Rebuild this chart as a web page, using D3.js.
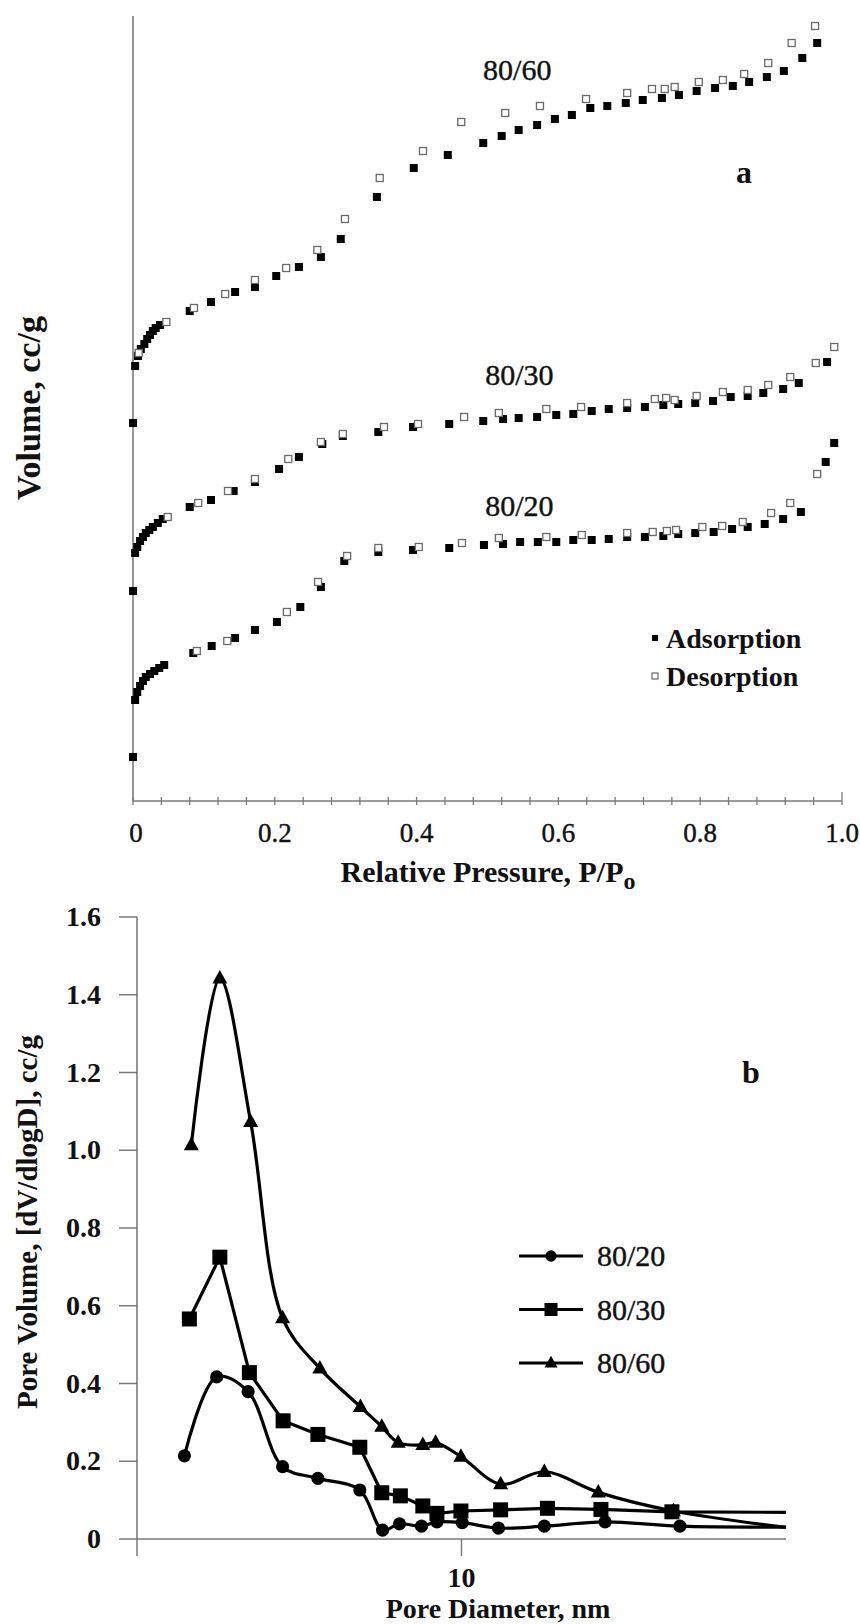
<!DOCTYPE html>
<html>
<head>
<meta charset="utf-8">
<script src="https://cdn.jsdelivr.net/npm/d3@7/dist/d3.min.js"></script>
<style>
  body { margin: 0; background: #fff; }
  svg { display: block; }
  text { font-family: "Liberation Serif", "Times New Roman", serif; fill: #111; }
  text.reg { stroke: #111; stroke-width: 0.4px; }
</style>
</head>
<body>
<svg id="fig" width="860" height="1624"></svg>
<script>
// ---------- (a) N2 isotherms: [P/P0, volume adsorbed, stacked offsets] ----------
const ads8060 = [[0,189],[0.003,217.5],[0.007,222.5],[0.011,226],[0.016,228.5],[0.020,231],[0.024,233],[0.028,235],[0.032,236.5],[0.038,238],
  [0.080,245],[0.110,249.5],[0.144,254.5],[0.172,257],[0.202,262.5],[0.234,267],[0.265,272],[0.293,281],[0.344,302],[0.396,316.5],
  [0.444,323],[0.494,329],[0.520,332.5],[0.544,335.5],[0.570,338],[0.595,341],[0.619,343],[0.645,346.5],[0.669,347.5],[0.695,349],
  [0.719,350.5],[0.746,351.5],[0.770,353],[0.795,355],[0.821,356.5],[0.846,357.5],[0.869,359.5],[0.894,362],[0.918,365],[0.944,371.5],[0.965,379]];
const des8060 = [[0.008,224],[0.047,239.5],[0.086,246.5],[0.130,253.5],[0.172,260.5],[0.216,266.5],[0.260,275.5],[0.299,291],[0.348,311.5],
  [0.409,325],[0.463,339.5],[0.525,344],[0.574,347.5],[0.639,351],[0.697,354],[0.732,356],[0.750,356],[0.764,357],[0.798,359.5],
  [0.832,360.5],[0.862,363.5],[0.896,369],[0.929,379],[0.962,387.5]];

const ads8030 = [[0,105],[0.003,124],[0.006,127],[0.010,130],[0.014,132],[0.018,134],[0.023,135.5],[0.028,137],[0.035,139],[0.042,141],
  [0.080,147],[0.110,150.5],[0.142,155],[0.172,159.5],[0.206,166],[0.234,172],[0.267,178.5],[0.296,182.5],[0.346,184.5],[0.395,187],
  [0.446,188.5],[0.494,190],[0.522,191],[0.544,191.5],[0.570,192],[0.597,193],[0.621,193.5],[0.647,195],[0.671,196],[0.697,196.5],
  [0.722,197],[0.748,198],[0.769,198.5],[0.793,199],[0.818,200],[0.843,202],[0.867,202.5],[0.889,204],[0.917,206],[0.939,209],[0.979,219.5]];
const des8030 = [[0.049,142],[0.092,149],[0.134,155],[0.172,161],[0.219,171],[0.265,179.5],[0.296,183.5],[0.354,187],[0.402,188.5],
  [0.467,192],[0.516,194],[0.583,196],[0.632,197],[0.697,199],[0.736,201],[0.752,201.5],[0.764,200.5],[0.795,202.5],[0.832,204.5],
  [0.867,205.5],[0.896,208],[0.927,212],[0.963,219],[0.989,227]];

const ads8020 = [[0,22],[0.003,50.5],[0.006,54.5],[0.010,57.5],[0.014,60],[0.018,62],[0.024,63.5],[0.030,65],[0.037,66.5],[0.044,68],
  [0.085,74],[0.111,77.5],[0.144,81.5],[0.172,85.5],[0.203,89.5],[0.236,97],[0.265,107],[0.298,120],[0.346,124.5],[0.395,125.5],
  [0.446,126.5],[0.495,128],[0.522,128.5],[0.546,129.5],[0.571,129.5],[0.597,129.5],[0.621,130.5],[0.647,130.5],[0.671,131],[0.697,132],
  [0.722,132],[0.748,132.5],[0.769,133.5],[0.793,134],[0.819,134.5],[0.845,136],[0.867,137],[0.891,138.5],[0.917,141],[0.942,144.5],
  [0.977,169.5],[0.989,179]];
const des8020 = [[0.090,75],[0.133,80],[0.217,94.5],[0.261,109.5],[0.302,122.5],[0.346,126.5],[0.403,127],[0.464,129],[0.516,131.5],
  [0.583,132],[0.633,133],[0.697,134],[0.733,134.5],[0.753,135],[0.766,135.5],[0.803,137],[0.831,137.5],[0.860,139.5],[0.900,144],
  [0.927,149],[0.965,163.5]];

const isoLabels = [{text: "80/60", p: 0.542, v: 360.5}, {text: "80/30", p: 0.545, v: 208}, {text: "80/20", p: 0.545, v: 142.5}];
const pressureTicks = d3.range(0, 1.0001, 0.04);
const pressureLabels = [[0, "0"], [0.2, "0.2"], [0.4, "0.4"], [0.6, "0.6"], [0.8, "0.8"], [1.0, "1.0"]];

// ---------- (b) BJH pore size distribution ----------
const diam8020 = [1.40, 1.76, 2.20, 2.81, 3.61, 4.86, 5.71, 6.44, 7.53, 8.40, 10.05, 13.0, 18.0, 27.7, 47.1, 130];
const pv8020   = [0.214, 0.417, 0.379, 0.186, 0.156, 0.126, 0.023, 0.039, 0.033, 0.044, 0.042, 0.028, 0.033, 0.044, 0.033, 0.031];
const diam8030 = [1.45, 1.80, 2.22, 2.82, 3.61, 4.86, 5.68, 6.48, 7.60, 8.40, 9.96, 13.2, 18.4, 26.9, 44.5, 130];
const pv8030   = [0.566, 0.725, 0.428, 0.304, 0.269, 0.236, 0.119, 0.111, 0.085, 0.066, 0.072, 0.075, 0.079, 0.076, 0.070, 0.068];
const diam8060 = [1.47, 1.80, 2.24, 2.81, 3.66, 4.88, 5.68, 6.38, 7.60, 8.32, 9.96, 13.2, 18.0, 26.4, 45.0, 130];
const pv8060   = [1.013, 1.442, 1.073, 0.568, 0.439, 0.340, 0.289, 0.248, 0.242, 0.248, 0.212, 0.141, 0.173, 0.120, 0.072, 0.018];
const pvTicks = [0, 0.2, 0.4, 0.6, 0.8, 1.0, 1.2, 1.4, 1.6];
const pvTickLabels = ["0", "0.2", "0.4", "0.6", "0.8", "1.0", "1.2", "1.4", "1.6"];
const diamTicks = [1, 10];
const diamTickLabels = ["", "10"];
const seriesNames = ["80/20", "80/30", "80/60"];

const svg = d3.select("#fig");
const axisColor = "#7a7a7a";

// ================= panel a =================
const xA = d3.scaleLinear().domain([0, 1]).range([133, 842]);
const yA = d3.scaleLinear().domain([0, 392.5]).range([801, 16]);
const gA = svg.append("g");

gA.append("line").attr("x1", xA(0)).attr("x2", xA(0)).attr("y1", yA(0)).attr("y2", yA(392.5))
  .attr("stroke", axisColor).attr("stroke-width", 1.6);
gA.append("line").attr("x1", xA(0)).attr("x2", xA(1)).attr("y1", yA(0)).attr("y2", yA(0))
  .attr("stroke", axisColor).attr("stroke-width", 1.6);
gA.selectAll("line.tick").data(pressureTicks).join("line").attr("class", "tick")
  .attr("x1", d => xA(d)).attr("x2", d => xA(d))
  .attr("y1", (d, i) => yA(0) - (i === pressureTicks.length - 1 ? 9 : 4)).attr("y2", yA(0) + 4)
  .attr("stroke", axisColor).attr("stroke-width", 1.3);
gA.selectAll("text.tl").data(pressureLabels).join("text").attr("class", "tl reg")
  .attr("x", d => xA(d[0]) + (d[0] === 0 ? 3 : 0)).attr("y", yA(0) + 41)
  .attr("text-anchor", "middle").attr("font-size", 27).text(d => d[1]);

const xt = gA.append("text").attr("x", 488).attr("y", 882).attr("text-anchor", "middle")
  .attr("font-size", 30).attr("font-weight", "bold");
xt.append("tspan").text("Relative Pressure, P/P");
xt.append("tspan").attr("font-size", 24).attr("dy", 7).text("o");

gA.append("text").attr("transform", "translate(40,408) rotate(-90)").attr("text-anchor", "middle")
  .attr("font-size", 34).attr("font-weight", "bold").text("Volume, cc/g");

function squares(g, data, filled, size) {
  g.selectAll(null).data(data).join("rect")
    .attr("x", d => xA(d[0]) - size / 2).attr("y", d => yA(d[1]) - size / 2)
    .attr("width", size).attr("height", size)
    .attr("fill", filled ? "#000" : "#fff")
    .attr("stroke", filled ? "none" : "#6a6a6a").attr("stroke-width", filled ? 0 : 1.3);
}
[ads8060, ads8030, ads8020].forEach(s => squares(gA.append("g"), s, true, 8));
[des8060, des8030, des8020].forEach(s => squares(gA.append("g"), s, false, 7));

gA.selectAll("text.iso").data(isoLabels).join("text").attr("class", "iso reg")
  .attr("x", d => xA(d.p)).attr("y", d => yA(d.v)).attr("text-anchor", "middle")
  .attr("font-size", 30).text(d => d.text);
gA.append("text").attr("x", 744).attr("y", 183).attr("text-anchor", "middle")
  .attr("font-size", 32).attr("font-weight", "bold").text("a");

const legA = gA.append("g");
legA.append("rect").attr("x", 652).attr("y", 635).attr("width", 6).attr("height", 6).attr("fill", "#000");
legA.append("text").attr("x", 666).attr("y", 648).attr("font-size", 28).attr("font-weight", "bold").text("Adsorption");
legA.append("rect").attr("x", 652).attr("y", 673).attr("width", 6).attr("height", 6)
  .attr("fill", "#fff").attr("stroke", "#6a6a6a").attr("stroke-width", 1.2);
legA.append("text").attr("x", 666).attr("y", 686).attr("font-size", 28).attr("font-weight", "bold").text("Desorption");

// ================= panel b =================
const xB = d3.scaleLog().domain([1, 100]).range([137, 786]);
const yB = d3.scaleLinear().domain([0, 1.6]).range([1539, 917]);
const gB = svg.append("g");

gB.append("line").attr("x1", xB(1)).attr("x2", xB(1)).attr("y1", yB(1.6)).attr("y2", yB(0))
  .attr("stroke", axisColor).attr("stroke-width", 1.6);
gB.append("line").attr("x1", xB(1)).attr("x2", xB(100)).attr("y1", yB(0)).attr("y2", yB(0))
  .attr("stroke", axisColor).attr("stroke-width", 1.6);
gB.selectAll("line.yt").data(pvTicks).join("line").attr("class", "yt")
  .attr("x1", xB(1) - 18).attr("x2", xB(1)).attr("y1", d => yB(d)).attr("y2", d => yB(d))
  .attr("stroke", axisColor).attr("stroke-width", 1.5);
gB.selectAll("text.yl").data(pvTicks).join("text").attr("class", "yl")
  .attr("x", xB(1) - 36).attr("y", d => yB(d) + 9).attr("text-anchor", "end")
  .attr("font-size", 28).attr("font-weight", "bold").text((d, i) => pvTickLabels[i]);
gB.selectAll("line.xt").data(diamTicks).join("line").attr("class", "xt")
  .attr("x1", d => xB(d)).attr("x2", d => xB(d)).attr("y1", yB(0)).attr("y2", yB(0) + 17)
  .attr("stroke", axisColor).attr("stroke-width", 1.5);
gB.selectAll("text.xl").data(diamTicks).join("text").attr("class", "xl")
  .attr("x", d => xB(d)).attr("y", yB(0) + 48).attr("text-anchor", "middle")
  .attr("font-size", 28).attr("font-weight", "bold").text((d, i) => diamTickLabels[i]);

gB.append("text").attr("x", 498).attr("y", 1618).attr("text-anchor", "middle")
  .attr("font-size", 28).attr("font-weight", "bold").text("Pore Diameter, nm");
gB.append("text").attr("transform", "translate(37,1222) rotate(-90)").attr("text-anchor", "middle")
  .attr("font-size", 29).attr("font-weight", "bold").text("Pore Volume, [dV/dlogD], cc/g");
gB.append("text").attr("x", 751).attr("y", 1083).attr("text-anchor", "middle")
  .attr("font-size", 32).attr("font-weight", "bold").text("b");

svg.append("defs").append("clipPath").attr("id", "plotB").append("rect")
  .attr("x", 100).attr("y", 880).attr("width", xB(100) - 100).attr("height", 680);

const series = [
  {d: diam8020, v: pv8020, shape: "circle", curve: d3.curveCatmullRom.alpha(0.5)},
  {d: diam8030, v: pv8030, shape: "square", curve: d3.curveLinear},
  {d: diam8060, v: pv8060, shape: "triangle", curve: d3.curveCatmullRom.alpha(0.5)}
];

function marker(g, shape, cx, cy, s) {
  if (shape === "circle") {
    g.append("circle").attr("cx", cx).attr("cy", cy).attr("r", s * 0.47).attr("fill", "#000");
  } else if (shape === "square") {
    g.append("rect").attr("x", cx - s / 2).attr("y", cy - s / 2).attr("width", s).attr("height", s).attr("fill", "#000");
  } else {
    const h = s * 0.9;
    g.append("path").attr("d", `M${cx},${cy - h * 0.62}L${cx + s / 2},${cy + h * 0.38}L${cx - s / 2},${cy + h * 0.38}Z`).attr("fill", "#000");
  }
}

const plotB = gB.append("g").attr("clip-path", "url(#plotB)");
series.forEach(s => {
  const pts = s.d.map((d, i) => [d, s.v[i]]);
  plotB.append("path").datum(pts)
    .attr("d", d3.line().x(p => xB(p[0])).y(p => yB(p[1])).curve(s.curve))
    .attr("fill", "none").attr("stroke", "#000").attr("stroke-width", 3.2).attr("stroke-linejoin", "round");
  const mg = plotB.append("g");
  pts.forEach(p => marker(mg, s.shape, xB(p[0]), yB(p[1]), s.shape === "circle" ? 14 : 15));
});

const legB = gB.append("g");
series.forEach((s, i) => {
  const cy = 1256 + i * 53.5;
  legB.append("line").attr("x1", 519).attr("x2", 583).attr("y1", cy).attr("y2", cy)
    .attr("stroke", "#000").attr("stroke-width", 3.2);
  marker(legB, s.shape, 551, cy, s.shape === "circle" ? 12 : 13);
  legB.append("text").attr("class", "reg").attr("x", 597).attr("y", cy + 10).attr("font-size", 30).text(seriesNames[i]);
});
</script>
</body>
</html>
